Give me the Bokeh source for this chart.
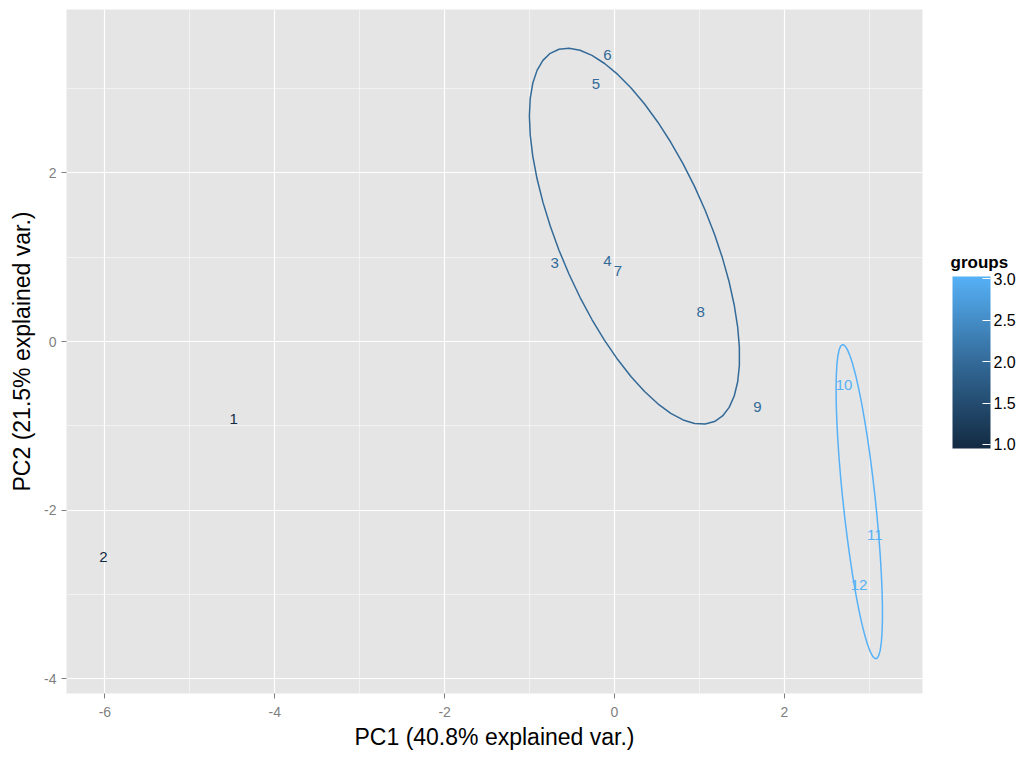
import numpy as np
from bokeh.plotting import figure
from bokeh.models import (ColumnDataSource, Range1d, ColorBar, LinearColorMapper,
                          FixedTicker, PrintfTickFormatter)
from bokeh.embed import file_html
from bokeh.resources import INLINE
from bokeh.core.properties import value

# ---- data ----
labels = ["1", "2", "3", "4", "5", "6", "7", "8", "9", "10", "11", "12"]
pc1 = [-4.485, -6.017, -0.704, -0.084, -0.217, -0.084, 0.041, 1.015, 1.683, 2.703, 3.065, 2.880]
pc2 = [-0.917, -2.558, 0.933, 0.951, 3.05, 3.39, 0.833, 0.350, -0.771, -0.515, -2.295, -2.885]
groups = [1, 1, 2, 2, 2, 2, 2, 2, 2, 3, 3, 3]
group_colors = {1: "#132B43", 2: "#336A98", 3: "#56B1F7"}
x_title = "PC1 (40.8% explained var.)"
y_title = "PC2 (21.5% explained var.)"
legend_title = "groups"
x_ticks = [-6, -4, -2, 0, 2]
y_ticks = [-4, -2, 0, 2]
legend_ticks = [1.0, 1.5, 2.0, 2.5, 3.0]
ellipse_prob = 0.68

FONT = "Liberation Sans"

p = figure(width=1020, height=752, output_backend="svg", toolbar_location=None,
           x_range=Range1d(-6.452, 3.627), y_range=Range1d(-4.172, 3.935),
           min_border_left=66, min_border_top=9, min_border_bottom=56,
           min_border_right=98)
p.background_fill_color = "#E5E5E5"
p.border_fill_color = "white"
p.outline_line_color = None

# grid
for g in (p.xgrid[0], p.ygrid[0]):
    g.grid_line_color = "white"
    g.grid_line_width = 1.2
    g.minor_grid_line_color = "white"
    g.minor_grid_line_width = 0.5
p.xaxis.ticker = FixedTicker(ticks=x_ticks, minor_ticks=[-7, -5, -3, -1, 1, 3])
p.yaxis.ticker = FixedTicker(ticks=y_ticks, minor_ticks=[-5, -3, -1, 1, 3])
p.xaxis.major_label_overrides = {t: str(t) for t in x_ticks}
p.yaxis.major_label_overrides = {t: str(t) for t in y_ticks}

for ax in (p.xaxis[0], p.yaxis[0]):
    ax.axis_line_color = None
    ax.major_tick_line_color = "#7F7F7F"
    ax.major_tick_line_width = 1
    ax.major_tick_out = 5
    ax.major_tick_in = 0
    ax.minor_tick_line_color = None
    ax.major_label_text_color = "#7F7F7F"
    ax.major_label_text_font = FONT
    ax.major_label_text_font_size = "14px"
    ax.axis_label_text_font = FONT
    ax.axis_label_text_font_size = "23px"
    ax.axis_label_text_font_style = "normal"
    ax.axis_label_text_color = "black"
p.xaxis.axis_label = x_title
p.yaxis.axis_label = y_title
p.xaxis.major_label_standoff = 8
p.yaxis.major_label_standoff = 5
p.xaxis.axis_label_standoff = 4
p.yaxis.axis_label_standoff = 6

# ellipses (ggbiplot style normal data ellipse, prob 0.68)
theta = np.linspace(-np.pi, np.pi, 50)
circle = np.column_stack([np.cos(theta), np.sin(theta)])
ed = np.sqrt(-2.0 * np.log(1.0 - ellipse_prob))
xs_arr = np.array(pc1)
ys_arr = np.array(pc2)
g_arr = np.array(groups)
for g in sorted(set(groups)):
    m = g_arr == g
    if m.sum() <= 2:
        continue
    pts = np.column_stack([xs_arr[m], ys_arr[m]])
    cov = np.cov(pts, rowvar=False)
    R = np.linalg.cholesky(cov).T
    ell = ed * circle @ R + pts.mean(axis=0)
    p.line(ell[:, 0], ell[:, 1], line_color=group_colors[g], line_width=1.5)

# point labels
src = ColumnDataSource(dict(x=pc1, y=pc2, label=labels,
                            color=[group_colors[g] for g in groups]))
p.text(x="x", y="y", text="label", source=src, text_color="color",
       text_align="center", text_baseline="middle", text_font=value(FONT),
       text_font_size="15px")

# colour bar
def hex2rgb(h):
    return np.array([int(h[i:i + 2], 16) for i in (1, 3, 5)], dtype=float)

c1, c2, c3 = (hex2rgb(group_colors[k]) for k in (1, 2, 3))
pal = []
for t in np.linspace(0, 1, 256):
    c = c1 + (c2 - c1) * (t * 2) if t <= 0.5 else c2 + (c3 - c2) * ((t - 0.5) * 2)
    pal.append("#%02x%02x%02x" % tuple(int(round(v)) for v in c))

mapper = LinearColorMapper(palette=pal, low=0.95, high=3.03)
cb = ColorBar(color_mapper=mapper, width=38, height=172, orientation="vertical",
              ticker=FixedTicker(ticks=legend_ticks),
              formatter=PrintfTickFormatter(format="%.1f"),
              major_label_text_font=FONT, major_label_text_font_size="16px",
              major_label_text_color="black",
              major_tick_line_color="white", major_tick_in=8, major_tick_out=0,
              bar_line_color=None, background_fill_color=None,
              border_line_color=None,
              location=(884, 243), margin=0, padding=2, label_standoff=3)
p.add_layout(cb, "center")

# legend title: a horizontal, invisible-bar colour bar that only shows its title
title_bar = ColorBar(color_mapper=mapper, width=60, height=1, orientation="horizontal",
                     ticker=FixedTicker(ticks=[]), scale_alpha=0,
                     major_tick_line_color=None, minor_tick_line_color=None,
                     major_label_text_alpha=0,
                     title=legend_title, title_text_font=FONT,
                     title_text_font_style="bold", title_text_font_size="17px",
                     title_text_color="black", title_standoff=0,
                     bar_line_color=None, background_fill_color=None,
                     border_line_color=None,
                     location=(884, 421), margin=0, padding=0)
p.add_layout(title_bar, "center")

open("out.html", "w").write(file_html(p, INLINE))
